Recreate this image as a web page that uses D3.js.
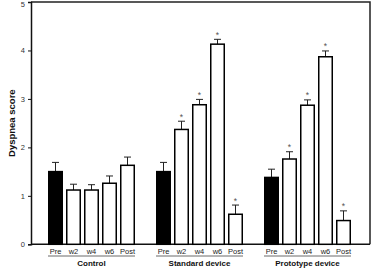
<!DOCTYPE html>
<html>
<head>
<meta charset="utf-8">
<script src="https://cdn.jsdelivr.net/npm/d3@7"></script>
<style>
  body { margin: 0; background: #fff; }
  svg { display: block; font-family: "Liberation Sans", Arial, sans-serif; }
</style>
</head>
<body>
<div id="chart"></div>
<script>
// data
const groups = ["Control", "Standard device", "Prototype device"];
const timepoints = ["Pre", "w2", "w4", "w6", "Post"];
const controlMeans   = [1.50, 1.12, 1.12, 1.26, 1.63];
const controlSE      = [0.19, 0.12, 0.11, 0.15, 0.17];
const standardMeans  = [1.50, 2.37, 2.88, 4.13, 0.62];
const standardSE     = [0.19, 0.17, 0.11, 0.10, 0.19];
const prototypeMeans = [1.38, 1.76, 2.87, 3.87, 0.49];
const prototypeSE    = [0.17, 0.15, 0.11, 0.12, 0.20];
const significant = [
  [false, false, false, false, false],
  [false, true, true, true, true],
  [false, true, true, true, true]
];
const yTicks = [0, 1, 2, 3, 4, 5];

const W = 372, H = 270;
const plot = { left: 31, right: 370, top: 2, bottom: 244.3 };

const means = [controlMeans, standardMeans, prototypeMeans];
const ses = [controlSE, standardSE, prototypeSE];

// flat list of bars, with an empty slot between groups
const slots = [];
const bars = [];
groups.forEach((g, gi) => {
  if (gi > 0) slots.push("gap" + gi);
  timepoints.forEach((t, ti) => {
    const key = g + "|" + t;
    slots.push(key);
    bars.push({ key, group: g, gi, tp: t, ti, value: means[gi][ti], se: ses[gi][ti], sig: significant[gi][ti] });
  });
});

const svg = d3.select("#chart").append("svg")
  .attr("width", W)
  .attr("height", H);

const x = d3.scaleBand()
  .domain(slots)
  .range([46.5, 352.5])
  .paddingInner(1 / 6)
  .paddingOuter(1 / 12);

const y = d3.scaleLinear()
  .domain([0, 5])
  .range([plot.bottom, plot.top]);

// frame (top and right)
svg.append("path")
  .attr("d", `M${plot.left},${plot.top}H${plot.right}V${plot.bottom}`)
  .attr("fill", "none")
  .attr("stroke", "#222")
  .attr("stroke-width", 1.5);

// y axis
const yAxis = svg.append("g")
  .attr("transform", `translate(${plot.left},0)`)
  .call(d3.axisLeft(y).tickValues(yTicks).tickSize(3).tickPadding(3).tickFormat(d3.format("d")));
yAxis.select(".domain").attr("stroke", "#111").attr("stroke-width", 1.5);
yAxis.selectAll(".tick line").attr("stroke", "#111");
yAxis.selectAll("text").style("font-size", "7.5px").attr("fill", "#333");
// top label sits right at the edge; nudge it inside the window
yAxis.selectAll(".tick text").filter(d => d === 5).attr("dy", "0.32em").attr("y", 1.8);

// bottom axis line
svg.append("line")
  .attr("x1", plot.left).attr("x2", plot.right)
  .attr("y1", plot.bottom).attr("y2", plot.bottom)
  .attr("stroke", "#111")
  .attr("stroke-width", 1.5);

// y label
svg.append("text")
  .attr("transform", `translate(12,${y(2.5)}) rotate(-90)`)
  .attr("text-anchor", "middle")
  .attr("dominant-baseline", "middle")
  .style("font-size", "9.5px")
  .style("font-weight", "bold")
  .attr("fill", "#111")
  .text("Dyspnea score");

// error bars (upward only)
const cap = 3.5;
const err = svg.append("g").attr("stroke", "#222").attr("stroke-width", 1);
bars.forEach(d => {
  const cx = x(d.key) + x.bandwidth() / 2;
  err.append("line")
    .attr("x1", cx).attr("x2", cx)
    .attr("y1", y(d.value)).attr("y2", y(d.value + d.se));
  err.append("line")
    .attr("x1", cx - cap).attr("x2", cx + cap)
    .attr("y1", y(d.value + d.se)).attr("y2", y(d.value + d.se));
});

// bars
svg.append("g").selectAll("rect")
  .data(bars)
  .enter()
  .append("rect")
  .attr("x", d => x(d.key) + 0.75)
  .attr("y", d => y(d.value))
  .attr("width", x.bandwidth() - 1.5)
  .attr("height", d => y(0) - y(d.value))
  .attr("fill", d => d.ti === 0 ? "#000" : "#fff")
  .attr("stroke", "#000")
  .attr("stroke-width", 1.5);

// significance stars
svg.append("g").selectAll("text")
  .data(bars.filter(d => d.sig))
  .enter()
  .append("text")
  .attr("x", d => x(d.key) + x.bandwidth() / 2)
  .attr("y", d => y(d.value + d.se) - 1.5)
  .attr("text-anchor", "middle")
  .style("font-size", "8.5px")
  .attr("fill", "#555")
  .text("*");

// timepoint labels
svg.append("g").selectAll("text")
  .data(bars)
  .enter()
  .append("text")
  .attr("x", d => x(d.key) + x.bandwidth() / 2)
  .attr("y", 252)
  .attr("text-anchor", "middle")
  .attr("dominant-baseline", "middle")
  .style("font-size", "7.5px")
  .attr("fill", "#222")
  .text(d => d.tp);

// group underline + label
groups.forEach(g => {
  const x0 = x(g + "|" + timepoints[0]);
  const x1 = x(g + "|" + timepoints[timepoints.length - 1]) + x.bandwidth();
  svg.append("line")
    .attr("x1", x0).attr("x2", x1)
    .attr("y1", 256).attr("y2", 256)
    .attr("stroke", "#444")
    .attr("stroke-width", 0.8);
  svg.append("text")
    .attr("x", (x0 + x1) / 2)
    .attr("y", 263.5)
    .attr("text-anchor", "middle")
    .attr("dominant-baseline", "middle")
    .style("font-size", "8px")
    .style("font-weight", "bold")
    .attr("fill", "#111")
    .text(g);
});
</script>
</body>
</html>
